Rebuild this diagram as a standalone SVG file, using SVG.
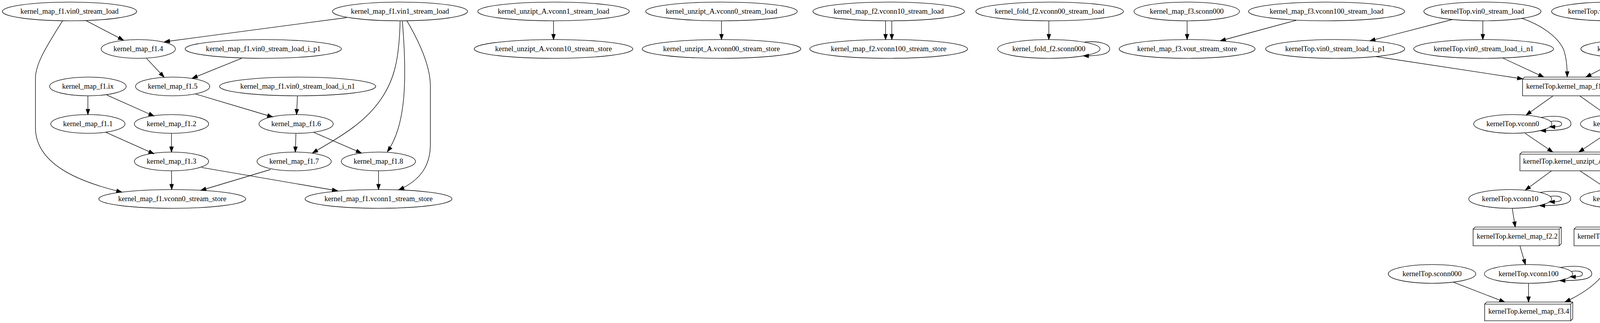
<svg xmlns="http://www.w3.org/2000/svg" width="4525" height="827" viewBox="0 0 4525 827">
<style>
.node ellipse,.node polygon,.node polyline{fill:none;stroke:#000;stroke-width:1.33}
.node text{font-family:"Liberation Serif","Times New Roman",serif;font-size:18.67px;text-anchor:middle;fill:#000}
.edges path{fill:none;stroke:#000;stroke-width:1.33;marker-end:url(#ah)}
</style>
<defs>
<marker id="ah" viewBox="-2 -7 18 14" refX="13.33" refY="0" markerWidth="18" markerHeight="14" markerUnits="userSpaceOnUse" orient="auto" overflow="visible"><path d="M0,-4.67L13.33,0L0,4.67Z" fill="#000" stroke="#000" stroke-width="1.33"/></marker>
</defs>
<rect x="0" y="0" width="4525" height="827" fill="#fff"/>
<g id="edges" class="edges">
<path d="M220,52.7 L316,102.7"/>
<path d="M160,53.3 C125,110 91,160 90.7,200 L90.7,326 C90.7,420 200,465 311.7,491.7"/>
<path d="M887.7,45 L421,107"/>
<path d="M1024.3,53.3 C1022,150 1010,200 980,246.7 C940,310 880,345 800,391.7"/>
<path d="M1030,53.3 C1042,200 1040,320 991.7,388.3"/>
<path d="M1041.7,53.3 C1075,110 1101.7,170 1101.7,220 L1101.7,370 C1101.7,420 1080,460 1021,486"/>
<path d="M375,149.4 L420,197.5"/>
<path d="M618.4,149.4 L492,200.5"/>
<path d="M225,245.3 L225,293.3"/>
<path d="M273.2,243.2 L394,297"/>
<path d="M501,240.8 L698,299.5"/>
<path d="M761.5,245.3 L759.2,293.3"/>
<path d="M271.7,339.2 L394,393.7"/>
<path d="M439,341.3 L439,389.3"/>
<path d="M757.6,341.3 L756,389.3"/>
<path d="M803.6,339.2 L925,391.7"/>
<path d="M439,437.3 L439.5,485.3"/>
<path d="M516.6,428.8 L864,488.5"/>
<path d="M692.6,434 L514,487.5"/>
<path d="M969,437.3 L969,485.3"/>
<path d="M1417,53.3 L1417,101.3"/>
<path d="M1847,53.3 L1847,101.3"/>
<path d="M2267,53.3 L2267,101.3"/>
<path d="M2283,53.3 L2283,101.3"/>
<path d="M2685,53.3 L2685,101.3"/>
<path d="M2776.7,107.6 C2809.7,104.3 2840.7,111.3 2840.7,125.3 C2840.7,138.3 2814.7,143.3 2773.3,143"/>
<path d="M3039,53.3 L3039,101.3"/>
<path d="M3318,52 L3124,104.5"/>
<path d="M3718,50 L3507,104.5"/>
<path d="M3796,53.3 L3796,101.3"/>
<path d="M3895,46.7 C3940,62 3985,90 4002,125 C4010,145 4012,170 4012,196.7"/>
<path d="M3522,144.8 L3898,202"/>
<path d="M3847.8,149 L3952,197.3"/>
<path d="M4153.4,149 L4060,197.3"/>
<path d="M4391.7,141.9 L4124,198"/>
<path d="M3976,245.3 L3907,294.5"/>
<path d="M4044,245.3 L4113.3,294.5"/>
<path d="M3969.7,311 C3982.7,308.3 3997.7,310.3 3997.7,317.3 C3997.7,323.3 3990.7,325.3 3967.2,324.6"/>
<path d="M3944.7,300.7 C3987.7,293.3 4021.7,300.3 4021.7,317.3 C4021.7,329.3 3997.7,334.8 3943.7,334.5"/>
<path d="M4243,311 C4256,308.3 4271,310.3 4271,317.3 C4271,323.3 4264,325.3 4240.5,324.6"/>
<path d="M4218,300.7 C4261,293.3 4295,300.3 4295,317.3 C4295,329.3 4271,334.8 4217,334.5"/>
<path d="M3904,341 L3975,389.3"/>
<path d="M4114,341 L4042,389.3"/>
<path d="M3972,437.3 L3905,486.5"/>
<path d="M4044.5,437.3 L4117.7,486"/>
<path d="M3968.8,503 C3982,500.3 3997,502.3 3997,509.3 C3997,515.3 3990,517.3 3966.2,516.6"/>
<path d="M3942.3,492.7 C3987,485.3 4021,492.3 4021,509.3 C4021,521.3 3997,526.8 3941.3,526.5"/>
<path d="M4251.9,503 C4265,500.3 4280,502.3 4280,509.3 C4280,515.3 4273,517.3 4249.2,516.6"/>
<path d="M4225.6,492.7 C4270,485.3 4304,492.3 4304,509.3 C4304,521.3 4280,526.8 4224.6,526.5"/>
<path d="M3871.3,533.3 L3879,581.3"/>
<path d="M4148.5,533.3 L4144,581.3"/>
<path d="M3891,629.3 L3905,677.4"/>
<path d="M4022.6,695 C4036,692.3 4051,694.3 4051,701.3 C4051,707.3 4044,709.3 4019.8,708.6"/>
<path d="M3994.4,684.7 C4041,677.3 4075,684.3 4075,701.3 C4075,713.3 4051,718.8 3993.2,718.5"/>
<path d="M3721,722.7 L3852,773.3"/>
<path d="M3913,725.3 L3913,773.3"/>
<path d="M4135.3,629.3 C4125,690 4090,735 4006.7,773"/>
</g>
<g id="n1" class="node"><ellipse cx="178" cy="29.3" rx="172" ry="24"/><text x="178" y="34.5">kernel_map_f1.vin0_stream_load</text></g>
<g id="n2" class="node"><ellipse cx="1024" cy="29.3" rx="173" ry="24"/><text x="1024" y="34.5">kernel_map_f1.vin1_stream_load</text></g>
<g id="n3" class="node"><ellipse cx="354" cy="125.3" rx="95" ry="24"/><text x="354" y="130.5">kernel_map_f1.4</text></g>
<g id="n4" class="node"><ellipse cx="674" cy="125.3" rx="200" ry="24"/><text x="674" y="130.5">kernel_map_f1.vin0_stream_load_i_p1</text></g>
<g id="n5" class="node"><ellipse cx="225" cy="221.3" rx="98" ry="24"/><text x="225" y="226.5">kernel_map_f1.ix</text></g>
<g id="n6" class="node"><ellipse cx="442" cy="221.3" rx="95" ry="24"/><text x="442" y="226.5">kernel_map_f1.5</text></g>
<g id="n7" class="node"><ellipse cx="762" cy="221.3" rx="200" ry="24"/><text x="762" y="226.5">kernel_map_f1.vin0_stream_load_i_n1</text></g>
<g id="n8" class="node"><ellipse cx="225" cy="317.3" rx="95" ry="24"/><text x="225" y="322.5">kernel_map_f1.1</text></g>
<g id="n9" class="node"><ellipse cx="439" cy="317.3" rx="95" ry="24"/><text x="439" y="322.5">kernel_map_f1.2</text></g>
<g id="n10" class="node"><ellipse cx="758" cy="317.3" rx="95" ry="24"/><text x="758" y="322.5">kernel_map_f1.6</text></g>
<g id="n11" class="node"><ellipse cx="439" cy="413.3" rx="95" ry="24"/><text x="439" y="418.5">kernel_map_f1.3</text></g>
<g id="n12" class="node"><ellipse cx="753" cy="413.3" rx="95" ry="24"/><text x="753" y="418.5">kernel_map_f1.7</text></g>
<g id="n13" class="node"><ellipse cx="968.7" cy="413.3" rx="95" ry="24"/><text x="968.7" y="418.5">kernel_map_f1.8</text></g>
<g id="n14" class="node"><ellipse cx="441" cy="509.3" rx="188" ry="24"/><text x="441" y="514.5">kernel_map_f1.vconn0_stream_store</text></g>
<g id="n15" class="node"><ellipse cx="969" cy="509.3" rx="188" ry="24"/><text x="969" y="514.5">kernel_map_f1.vconn1_stream_store</text></g>
<g id="n16" class="node"><ellipse cx="1417" cy="29.3" rx="194" ry="24"/><text x="1417" y="34.5">kernel_unzipt_A.vconn1_stream_load</text></g>
<g id="n17" class="node"><ellipse cx="1417" cy="125.3" rx="203" ry="24"/><text x="1417" y="130.5">kernel_unzipt_A.vconn10_stream_store</text></g>
<g id="n18" class="node"><ellipse cx="1847" cy="29.3" rx="194" ry="24"/><text x="1847" y="34.5">kernel_unzipt_A.vconn0_stream_load</text></g>
<g id="n19" class="node"><ellipse cx="1847" cy="125.3" rx="203" ry="24"/><text x="1847" y="130.5">kernel_unzipt_A.vconn00_stream_store</text></g>
<g id="n20" class="node"><ellipse cx="2275" cy="29.3" rx="194" ry="24"/><text x="2275" y="34.5">kernel_map_f2.vconn10_stream_load</text></g>
<g id="n21" class="node"><ellipse cx="2275" cy="125.3" rx="202" ry="24"/><text x="2275" y="130.5">kernel_map_f2.vconn100_stream_store</text></g>
<g id="n22" class="node"><ellipse cx="2687" cy="29.3" rx="189" ry="24"/><text x="2687" y="34.5">kernel_fold_f2.vconn00_stream_load</text></g>
<g id="n23" class="node"><ellipse cx="2685" cy="125.3" rx="131" ry="24"/><text x="2685" y="130.5">kernel_fold_f2.sconn000</text></g>
<g id="n24" class="node"><ellipse cx="3038" cy="29.3" rx="135" ry="24"/><text x="3038" y="34.5">kernel_map_f3.sconn000</text></g>
<g id="n25" class="node"><ellipse cx="3039" cy="125.3" rx="174" ry="24"/><text x="3039" y="130.5">kernel_map_f3.vout_stream_store</text></g>
<g id="n26" class="node"><ellipse cx="3396" cy="29.3" rx="200" ry="24"/><text x="3396" y="34.5">kernel_map_f3.vconn100_stream_load</text></g>
<g id="n27" class="node"><ellipse cx="3795" cy="29.3" rx="150" ry="24"/><text x="3795" y="34.5">kernelTop.vin0_stream_load</text></g>
<g id="n28" class="node"><ellipse cx="4123" cy="29.3" rx="151" ry="24"/><text x="4123" y="34.5">kernelTop.vout_stream_store</text></g>
<g id="n29" class="node"><ellipse cx="4376" cy="29.3" rx="77" ry="24"/><text x="4376" y="34.5">kernelTop.s0</text></g>
<g id="n30" class="node"><ellipse cx="3418" cy="125.3" rx="178" ry="24"/><text x="3418" y="130.5">kernelTop.vin0_stream_load_i_p1</text></g>
<g id="n31" class="node"><ellipse cx="3798" cy="125.3" rx="179" ry="24"/><text x="3798" y="130.5">kernelTop.vin0_stream_load_i_n1</text></g>
<g id="n32" class="node"><ellipse cx="4196" cy="125.3" rx="149" ry="24"/><text x="4196" y="130.5">kernelTop.vin1_stream_load</text></g>
<g id="n33" class="node"><ellipse cx="4446" cy="125.3" rx="75" ry="24"/><text x="4446" y="130.5">kernelTop.ix</text></g>
<g id="n34" class="node"><polygon points="4123.3,197.3 3903,197.3 3897.7,202.6 3897.7,245.3 4118,245.3 4123.3,240 4123.3,197.3"/><polyline points="3897.7,202.6 4118,202.6 4118,245.3"/><polyline points="4118,202.6 4123.3,197.3"/><text x="4010.5" y="226.5">kernelTop.kernel_map_f1.0</text></g>
<g id="n35" class="node"><ellipse cx="3872.7" cy="317.3" rx="100" ry="24"/><text x="3872.7" y="322.5">kernelTop.vconn0</text></g>
<g id="n36" class="node"><ellipse cx="4146" cy="317.3" rx="100" ry="24"/><text x="4146" y="322.5">kernelTop.vconn1</text></g>
<g id="n37" class="node"><polygon points="4126.3,389.3 3896.3,389.3 3891,394.6 3891,437.3 4121,437.3 4126.3,432 4126.3,389.3"/><polyline points="3891,394.6 4121,394.6 4121,437.3"/><polyline points="4121,394.6 4126.3,389.3"/><text x="4008.7" y="418.5">kernelTop.kernel_unzipt_A.1</text></g>
<g id="n38" class="node"><ellipse cx="3866" cy="509.3" rx="106" ry="24"/><text x="3866" y="514.5">kernelTop.vconn10</text></g>
<g id="n39" class="node"><ellipse cx="4150" cy="509.3" rx="105" ry="24"/><text x="4150" y="514.5">kernelTop.vconn00</text></g>
<g id="n40" class="node"><polygon points="3996.8,581.3 3776.5,581.3 3771.2,586.6 3771.2,629.3 3991.5,629.3 3996.8,624 3996.8,581.3"/><polyline points="3771.2,586.6 3991.5,586.6 3991.5,629.3"/><polyline points="3991.5,586.6 3996.8,581.3"/><text x="3884" y="610.5">kernelTop.kernel_map_f2.2</text></g>
<g id="n41" class="node"><polygon points="4251.7,581.3 4034.8,581.3 4029.5,586.6 4029.5,629.3 4246.4,629.3 4251.7,624 4251.7,581.3"/><polyline points="4029.5,586.6 4246.4,586.6 4246.4,629.3"/><polyline points="4246.4,586.6 4251.7,581.3"/><text x="4140.6" y="610.5">kernelTop.kernel_fold_f2.3</text></g>
<g id="n42" class="node"><ellipse cx="3666" cy="701.3" rx="112" ry="24"/><text x="3666" y="706.5">kernelTop.sconn000</text></g>
<g id="n43" class="node"><ellipse cx="3913" cy="701.3" rx="113" ry="24"/><text x="3913" y="706.5">kernelTop.vconn100</text></g>
<g id="n44" class="node"><polygon points="4026.3,773.3 3806,773.3 3800.7,778.6 3800.7,821.3 4021,821.3 4026.3,816 4026.3,773.3"/><polyline points="3800.7,778.6 4021,778.6 4021,821.3"/><polyline points="4021,778.6 4026.3,773.3"/><text x="3913.5" y="802.5">kernelTop.kernel_map_f3.4</text></g>
</svg>
